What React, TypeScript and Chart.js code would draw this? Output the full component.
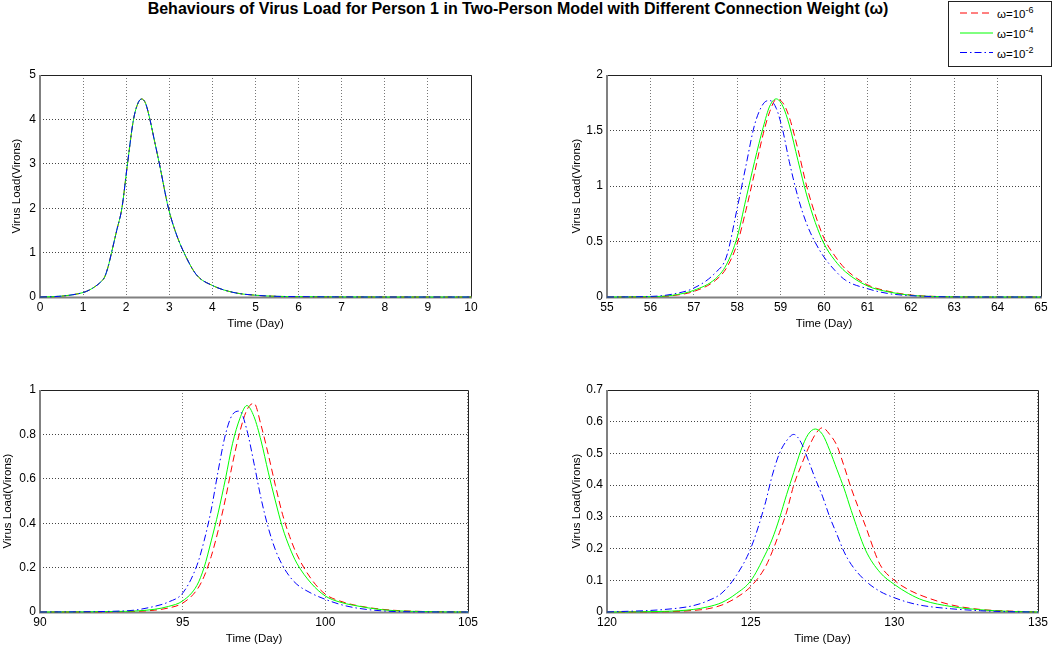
import React, { useEffect, useRef } from "react";
import { Chart, registerables } from "chart.js";

Chart.register(...registerables);

// ---------------- DATA ----------------
const legendLabels = ["ω=10", "ω=10", "ω=10"];
const legendExponents = ["-6", "-4", "-2"];

const figureTitle =
  "Behaviours of Virus Load for Person 1 in Two-Person Model with Different Connection Weight (ω)";
const xAxisTitle = "Time (Day)";
const yAxisTitle = "Virus Load(Virons)";

// Panel 1 : days 0 - 10
const p1Time = [0, 0.5, 1, 1.15, 1.3, 1.4, 1.5, 1.58, 1.66, 1.78, 1.9, 2.03, 2.17, 2.28, 2.36, 2.45, 2.55, 2.66, 2.77, 2.98, 3.15, 3.34, 3.63, 4, 4.5, 5, 5.5, 6, 7, 8, 9, 10];
const p1Red = [0, 0.02, 0.1, 0.16, 0.25, 0.33, 0.45, 0.68, 1.0, 1.5, 2.0, 3.0, 4.0, 4.38, 4.46, 4.36, 4.0, 3.5, 3.0, 2.0, 1.45, 1.0, 0.5, 0.26, 0.1, 0.04, 0.015, 0.008, 0.002, 0, 0, 0];
const p1Green = [0, 0.02, 0.1, 0.16, 0.25, 0.33, 0.45, 0.68, 1.0, 1.5, 2.0, 3.0, 4.0, 4.38, 4.46, 4.36, 4.0, 3.5, 3.0, 2.0, 1.45, 1.0, 0.5, 0.26, 0.1, 0.04, 0.015, 0.008, 0.002, 0, 0, 0];
const p1Blue = [0, 0.02, 0.1, 0.16, 0.25, 0.33, 0.45, 0.68, 1.0, 1.5, 2.0, 3.0, 4.0, 4.38, 4.46, 4.36, 4.0, 3.5, 3.0, 2.0, 1.45, 1.0, 0.5, 0.26, 0.1, 0.04, 0.015, 0.008, 0.002, 0, 0, 0];

// Panel 2 : days 55 - 65
const p2Time = [55, 56, 56.5, 57, 57.5, 57.75, 58, 58.2, 58.4, 58.6, 58.75, 58.9, 59.05, 59.2, 59.4, 59.6, 59.8, 60, 60.25, 60.5, 61, 61.5, 62, 62.5, 63, 64, 65];
const p2Red = [0, 0.002, 0.012, 0.05, 0.15, 0.26, 0.48, 0.78, 1.12, 1.47, 1.67, 1.78, 1.75, 1.62, 1.33, 1.0, 0.74, 0.53, 0.37, 0.25, 0.11, 0.05, 0.018, 0.006, 0.002, 0, 0];
const p2Green = [0, 0.003, 0.015, 0.06, 0.165, 0.29, 0.54, 0.88, 1.22, 1.53, 1.72, 1.785, 1.72, 1.55, 1.23, 0.92, 0.67, 0.48, 0.33, 0.225, 0.1, 0.045, 0.015, 0.005, 0.001, 0, 0];
const p2Blue = [0, 0.005, 0.025, 0.08, 0.22, 0.36, 0.8, 1.18, 1.55, 1.74, 1.77, 1.7, 1.5, 1.22, 0.9, 0.66, 0.49, 0.36, 0.24, 0.15, 0.075, 0.03, 0.012, 0.004, 0.001, 0, 0];

// Panel 3 : days 90 - 105
const p3Time = [90, 93, 94, 94.5, 95, 95.5, 95.75, 96, 96.25, 96.5, 96.75, 97, 97.25, 97.5, 97.75, 98, 98.25, 98.5, 98.75, 99, 99.5, 100, 100.5, 101, 102, 103, 105];
const p3Red = [0, 0.002, 0.008, 0.018, 0.04, 0.1, 0.16, 0.25, 0.37, 0.51, 0.67, 0.81, 0.91, 0.94, 0.84, 0.71, 0.57, 0.44, 0.34, 0.26, 0.15, 0.08, 0.05, 0.032, 0.012, 0.004, 0];
const p3Green = [0, 0.003, 0.012, 0.025, 0.05, 0.12, 0.2, 0.32, 0.45, 0.6, 0.76, 0.87, 0.93, 0.88, 0.77, 0.63, 0.5, 0.38, 0.29, 0.22, 0.13, 0.072, 0.045, 0.03, 0.01, 0.003, 0];
const p3Blue = [0, 0.005, 0.025, 0.045, 0.085, 0.21, 0.32, 0.46, 0.64, 0.8, 0.89, 0.905, 0.82, 0.67, 0.51, 0.38, 0.28, 0.21, 0.16, 0.125, 0.085, 0.057, 0.035, 0.02, 0.005, 0.001, 0];

// Panel 4 : days 120 - 135
const p4Time = [120, 122, 123, 123.5, 124, 124.5, 125, 125.5, 125.75, 126, 126.25, 126.5, 126.75, 127, 127.25, 127.5, 127.75, 128, 128.25, 128.5, 129, 129.5, 130, 130.5, 131, 132, 133, 134, 135];
const p4Red = [0, 0.001, 0.005, 0.01, 0.022, 0.045, 0.08, 0.14, 0.19, 0.25, 0.315, 0.4, 0.46, 0.515, 0.56, 0.581, 0.56, 0.525, 0.46, 0.39, 0.27, 0.15, 0.1, 0.07, 0.05, 0.022, 0.008, 0.003, 0];
const p4Green = [0, 0.002, 0.008, 0.016, 0.03, 0.058, 0.098, 0.18, 0.23, 0.295, 0.37, 0.44, 0.51, 0.56, 0.577, 0.56, 0.51, 0.45, 0.39, 0.32, 0.195, 0.125, 0.087, 0.058, 0.037, 0.017, 0.007, 0.002, 0];
const p4Blue = [0, 0.008, 0.02, 0.035, 0.06, 0.115, 0.2, 0.34, 0.43, 0.5, 0.54, 0.56, 0.535, 0.48, 0.42, 0.365, 0.3, 0.245, 0.19, 0.15, 0.098, 0.065, 0.045, 0.03, 0.02, 0.01, 0.004, 0.001, 0];

// axis ranges / ticks
const p1XRange = [0, 10, 1];
const p2XRange = [55, 65, 1];
const p3XRange = [90, 105, 5];
const p4XRange = [120, 135, 5];
const p1YRange = [0, 5, 1];
const p2YRange = [0, 2, 0.5];
const p3YRange = [0, 1, 0.2];
const p4YRange = [0, 0.7, 0.1];

// ---------------- STYLE ----------------
const FONT = "'Liberation Sans', Arial, Helvetica, sans-serif";
const RED = "#ff0000";
const GREEN = "#00ff00";
const BLUE = "#0000ff";
const RED_DASH = [7, 4];
const BLUE_DASH = [7, 3, 1.5, 3];

const boxPlugin = {
  id: "matlabBox",
  beforeDatasetsDraw(chart: any) {
    const { ctx, chartArea } = chart;
    const { left, top, right, bottom } = chartArea;
    ctx.save();
    ctx.setLineDash([]);
    ctx.strokeStyle = "#222222";
    ctx.lineWidth = 1;
    ctx.beginPath();
    ctx.moveTo(left, top + 0.5);
    ctx.lineTo(right + 0.5, top + 0.5);
    ctx.lineTo(right + 0.5, bottom);
    ctx.stroke();
    ctx.fillStyle = "#808080";
    ctx.fillRect(left - 1, top, 2, bottom - top + 1);
    ctx.fillRect(left - 1, bottom - 0.5, right - left + 2, 2);
    ctx.restore();
  },
};

type PanelCfg = {
  time: number[];
  red: number[];
  green: number[];
  blue: number[];
  xr: number[];
  yr: number[];
  left: number;
  top: number;
  width: number;
  height: number;
  yWidth: number;
  yTitlePad: number;
};

const fmt = (v: any) => Number(Number(v).toFixed(3)).toString();

function Panel({ cfg }: { cfg: PanelCfg }) {
  const ref = useRef<HTMLCanvasElement>(null);
  useEffect(() => {
    if (!ref.current) return;
    const pts = (ys: number[]) => cfg.time.map((t, i) => ({ x: t, y: ys[i] }));
    const common = {
      borderWidth: 1,
      pointRadius: 0,
      fill: false,
      cubicInterpolationMode: "monotone" as const,
      clip: 2,
    };
    const chart = new Chart(ref.current, {
      type: "line",
      data: {
        datasets: [
          { ...common, label: "ω=10^-6", data: pts(cfg.red), borderColor: RED, borderDash: RED_DASH, order: 2 },
          { ...common, label: "ω=10^-4", data: pts(cfg.green), borderColor: GREEN, order: 1 },
          { ...common, label: "ω=10^-2", data: pts(cfg.blue), borderColor: BLUE, borderDash: BLUE_DASH, order: 0 },
        ],
      },
      options: {
        animation: false,
        responsive: false,
        events: [],
        layout: { padding: { left: 0, top: 15, right: 10, bottom: 0 } },
        plugins: { legend: { display: false }, tooltip: { enabled: false }, title: { display: false } },
        scales: {
          x: {
            type: "linear",
            min: cfg.xr[0],
            max: cfg.xr[1],
            afterFit: (s: any) => {
              s.height = 35;
            },
            ticks: {
              stepSize: cfg.xr[2],
              autoSkip: false,
              maxRotation: 0,
              padding: 3,
              color: "#000",
              font: { family: FONT, size: 12 },
              callback: fmt,
            },
            grid: { color: "#777777", lineWidth: 1, drawTicks: false, tickLength: 0 },
            border: { display: false, dash: [1, 2] },
            title: {
              display: true,
              text: xAxisTitle,
              color: "#000",
              font: { family: FONT, size: 11.5 },
              padding: { top: 0, bottom: 1 },
            },
          },
          y: {
            type: "linear",
            min: cfg.yr[0],
            max: cfg.yr[1],
            afterFit: (s: any) => {
              s.width = cfg.yWidth;
            },
            ticks: {
              stepSize: cfg.yr[2],
              autoSkip: false,
              padding: 4,
              color: "#000",
              font: { family: FONT, size: 12 },
              callback: fmt,
            },
            grid: { color: "#444444", lineWidth: 1, drawTicks: false, tickLength: 0 },
            border: { display: false, dash: [1, 2] },
            title: {
              display: true,
              text: yAxisTitle,
              color: "#000",
              font: { family: FONT, size: 11.5 },
              padding: { top: cfg.yTitlePad, bottom: 0 },
            },
          },
        },
      },
      plugins: [boxPlugin],
    } as any);
    return () => chart.destroy();
  }, []);
  return (
    <canvas
      ref={ref}
      width={cfg.width}
      height={cfg.height}
      style={{ position: "absolute", left: cfg.left, top: cfg.top, width: cfg.width, height: cfg.height }}
    />
  );
}

const panels: PanelCfg[] = [
  { time: p1Time, red: p1Red, green: p1Green, blue: p1Blue, xr: p1XRange, yr: p1YRange, left: 0, top: 60, width: 481, height: 272, yWidth: 40, yTitlePad: 10 },
  { time: p2Time, red: p2Red, green: p2Green, blue: p2Blue, xr: p2XRange, yr: p2YRange, left: 560, top: 60, width: 491, height: 272, yWidth: 47, yTitlePad: 10 },
  { time: p3Time, red: p3Red, green: p3Green, blue: p3Blue, xr: p3XRange, yr: p3YRange, left: 0, top: 375, width: 481, height: 272, yWidth: 40, yTitlePad: 1 },
  { time: p4Time, red: p4Red, green: p4Green, blue: p4Blue, xr: p4XRange, yr: p4YRange, left: 560, top: 375, width: 491, height: 272, yWidth: 47, yTitlePad: 10 },
];

function Legend() {
  const colors = [RED, GREEN, BLUE];
  const dashes = [RED_DASH.join(","), "none", BLUE_DASH.join(",")];
  const ys = [13, 33, 52.5];
  return (
    <svg
      width={110}
      height={70}
      style={{ position: "absolute", left: 945, top: 0 }}
      xmlns="http://www.w3.org/2000/svg"
    >
      <rect x={3.5} y={1.5} width={103} height={65} fill="#fff" stroke="#222" strokeWidth={1} />
      {colors.map((c, i) => (
        <g key={i}>
          <line x1={15} x2={48} y1={ys[i]} y2={ys[i]} stroke={c} strokeWidth={1} strokeDasharray={dashes[i]} />
          <text x={52} y={ys[i] + 5} fontFamily={FONT} fontSize={11.5} fill="#000">
            {legendLabels[i]}
            <tspan dy={-5} fontSize={9}>
              {legendExponents[i]}
            </tspan>
          </text>
        </g>
      ))}
    </svg>
  );
}

export default function App() {
  return (
    <div style={{ position: "absolute", left: 0, top: 0, width: 1054, height: 651, background: "#fff", overflow: "hidden" }}>
      <div
        style={{
          position: "absolute",
          left: 0,
          width: 1036,
          top: 0,
          textAlign: "center",
          fontFamily: FONT,
          fontWeight: "bold",
          fontSize: 16,
          color: "#000",
          whiteSpace: "nowrap",
        }}
      >
        {figureTitle}
      </div>
      {panels.map((p, i) => (
        <Panel key={i} cfg={p} />
      ))}
      <Legend />
    </div>
  );
}
